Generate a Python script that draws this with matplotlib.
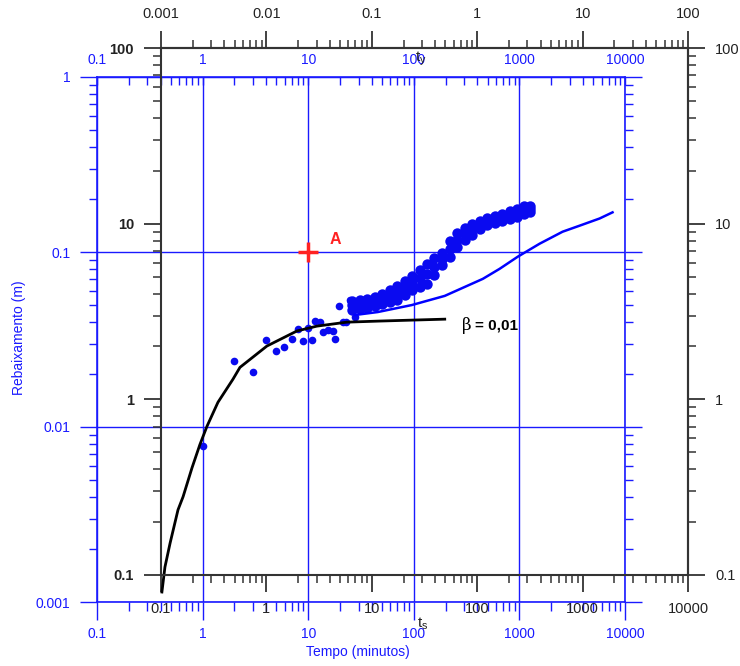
import numpy as np
import matplotlib
matplotlib.use("Agg")
import matplotlib.pyplot as plt
from matplotlib.ticker import LogLocator, NullFormatter

plt.rcParams['font.family'] = ['Liberation Sans', 'DejaVu Sans']

# dados de campo: tempo (minutos) e rebaixamento (m)
t_early = [1.0, 1.97, 2.98, 3.95, 4.91, 5.85, 6.97, 7.94, 8.85, 9.87, 10.8, 11.7,
           12.8, 13.7, 15.3, 17.0, 17.8, 19.4, 21.2, 22.6, 24.7, 25.8, 27.5, 32.0, 35.7]
s_early = [0.00778, 0.0238, 0.0206, 0.0314, 0.0272, 0.0287, 0.0318, 0.0363, 0.031,
           0.0368, 0.0314, 0.0403, 0.0398, 0.0349, 0.0358, 0.0354, 0.0318, 0.0491,
           0.0398, 0.0398, 0.0532, 0.0485, 0.0425, 0.0532, 0.0498]

t_band = [25.8, 30.7, 35.7, 42.5, 49.6, 59.0, 68.7, 81.8, 95.3, 113.5, 132, 157, 183,
          218, 254, 303, 352, 420, 489, 582, 678, 807, 940, 1096, 1250]
s_band_top = [0.0525, 0.0532, 0.0539, 0.0553, 0.0575, 0.0607, 0.064, 0.0683, 0.0729,
              0.0789, 0.0853, 0.0924, 0.0987, 0.1156, 0.1284, 0.137, 0.1445, 0.1503,
              0.1563, 0.1607, 0.1648, 0.1714, 0.1762, 0.1832, 0.1832]
s_band_mid = [0.0495, 0.0501, 0.0508, 0.0521, 0.0539, 0.0561, 0.0583, 0.0623, 0.0665,
              0.0706, 0.0748, 0.0826, 0.0912, 0.104, 0.1172, 0.1268, 0.1345, 0.1426,
              0.1493, 0.1535, 0.1574, 0.1626, 0.1671, 0.1738, 0.1762]
s_band_low = [0.0467, 0.0472, 0.0479, 0.0491, 0.0505, 0.0518, 0.0532, 0.0568, 0.0607,
              0.0631, 0.0656, 0.0739, 0.0843, 0.0936, 0.1069, 0.1172, 0.125, 0.1353,
              0.1426, 0.1466, 0.1503, 0.1545, 0.1585, 0.1648, 0.1694]

# curvas tipo (coordenadas adimensionais)
x_curve_a = [0.102, 0.109, 0.122, 0.145, 0.162, 0.197, 0.234, 0.273, 0.347, 0.481,
             0.561, 1.01, 1.95, 3.01, 5.79, 11.9, 49.2]
y_curve_a = [0.080, 0.111, 0.152, 0.235, 0.279, 0.408, 0.553, 0.702, 0.962, 1.30,
             1.52, 2.01, 2.45, 2.61, 2.75, 2.79, 2.86]
x_curve_b = [6.90, 11.4, 23.9, 49.2, 113, 163, 242, 391, 646, 937, 1449, 1923]
y_curve_b = [3.02, 3.14, 3.44, 3.88, 4.85, 5.53, 6.48, 7.69, 9.0, 9.74, 10.7, 11.6]

# ponto de ajuste A
t_match = 10
s_match = 0.1

blue_x_ticks = [0.1, 1, 10, 100, 1000, 10000]
blue_x_labels = ['0.1', '1', '10', '100', '1000', '10000']
blue_y_ticks = [0.001, 0.01, 0.1, 1]
blue_y_labels = ['0.001', '0.01', '0.1', '1']
black_x_ticks = [0.1, 1, 10, 100, 1000, 10000]
black_x_labels = ['0.1', '1', '10', '100', '1000', '10000']
black_top_ticks = [0.001, 0.01, 0.1, 1, 10, 100]
black_top_labels = ['0.001', '0.01', '0.1', '1', '10', '100']
black_y_ticks = [0.1, 1, 10, 100]
black_y_labels = ['0.1', '1', '10', '100']

blue = '#1a1aff'
dark = '#333333'
W, H = 740, 666

fig = plt.figure(figsize=(7.4, 6.66), dpi=100)

# eixos dos dados (azul)
ax = fig.add_axes([97 / W, (H - 602) / H, 528 / W, 525 / H])
ax.set_xscale('log')
ax.set_yscale('log')
ax.set_xlim(0.1, 10000)
ax.set_ylim(0.001, 1)
ax.set_xticks(blue_x_ticks, blue_x_labels)
ax.set_yticks(blue_y_ticks, blue_y_labels)
for a in (ax.xaxis, ax.yaxis):
    a.set_minor_locator(LogLocator(base=10, subs=np.arange(2, 10)))
    a.set_minor_formatter(NullFormatter())
ax.tick_params(axis='x', which='both', bottom=True, top=False, direction='out',
               colors=blue, labelsize=10)
ax.tick_params(axis='x', which='major', length=13, width=1, pad=5)
ax.tick_params(axis='x', which='minor', length=6.5, width=1)
ax.tick_params(axis='y', which='both', left=True, right=True, direction='out',
               colors=blue, labelsize=10, labelright=False)
ax.tick_params(axis='y', which='major', length=12, width=1, pad=7)
ax.tick_params(axis='y', which='minor', length=6, width=1)
for sp in ax.spines.values():
    sp.set_color(blue)
    sp.set_linewidth(1.2)
ax.grid(True, which='major', color=blue, lw=1)

top_blue = ax.secondary_xaxis('top')
top_blue.set_xticks(blue_x_ticks, blue_x_labels)
top_blue.xaxis.set_minor_locator(LogLocator(base=10, subs=np.arange(2, 10)))
top_blue.xaxis.set_minor_formatter(NullFormatter())
top_blue.tick_params(axis='x', which='both', direction='in', colors=blue,
                     labelsize=10, length=6, width=1, pad=7)
top_blue.spines['top'].set_color(blue)

ax.plot(t_early, s_early, 'o', color='#0a0af0', ms=5.5, mew=0)
ax.plot(t_band, s_band_top, 'o', color='#0a0af0', ms=7.5, mew=0)
ax.plot(t_band, s_band_mid, 'o', color='#0a0af0', ms=7.5, mew=0)
ax.plot(t_band, s_band_low, 'o', color='#0a0af0', ms=7.5, mew=0)
ax.plot([t_match], [s_match], '+', color='#ff2222', ms=14, mew=2.5)

# eixos da curva tipo (preto)
ax2 = fig.add_axes([161 / W, (H - 575) / H, 527 / W, 527 / H])
ax2.patch.set_visible(False)
ax2.set_xscale('log')
ax2.set_yscale('log')
ax2.set_xlim(0.1, 10000)
ax2.set_ylim(0.1, 100)
ax2.set_xticks(black_x_ticks, black_x_labels)
ax2.set_yticks(black_y_ticks, black_y_labels, fontweight='bold')
for a in (ax2.xaxis, ax2.yaxis):
    a.set_minor_locator(LogLocator(base=10, subs=np.arange(2, 10)))
    a.set_minor_formatter(NullFormatter())
ax2.tick_params(axis='both', which='both', direction='out', color=dark,
                labelcolor='#222222', labelsize=10.5, top=False, right=False)
ax2.tick_params(axis='both', which='major', length=12.5, width=1.3, pad=7)
ax2.tick_params(axis='both', which='minor', length=6, width=1.1)
for sp in ax2.spines.values():
    sp.set_color(dark)
    sp.set_linewidth(1.5)

top_black = ax2.secondary_xaxis('top', functions=(lambda x: x / 100, lambda x: x * 100))
top_black.set_xticks(black_top_ticks, black_top_labels)
top_black.xaxis.set_minor_locator(LogLocator(base=10, subs=np.arange(2, 10)))
top_black.xaxis.set_minor_formatter(NullFormatter())
top_black.tick_params(axis='x', which='both', direction='out', color=dark,
                      labelcolor='#222222', labelsize=10.5, pad=7)
top_black.tick_params(axis='x', which='major', length=12.5, width=1.3)
top_black.tick_params(axis='x', which='minor', length=6, width=1.1)
top_black.spines['top'].set_color(dark)
top_black.spines['top'].set_linewidth(1.5)

right_black = ax2.secondary_yaxis('right')
right_black.set_yticks(black_y_ticks, black_y_labels)
right_black.yaxis.set_minor_locator(LogLocator(base=10, subs=np.arange(2, 10)))
right_black.yaxis.set_minor_formatter(NullFormatter())
right_black.tick_params(axis='y', which='both', direction='out', color=dark,
                        labelcolor='#222222', labelsize=10.5, pad=7)
right_black.tick_params(axis='y', which='major', length=12.5, width=1.3)
right_black.tick_params(axis='y', which='minor', length=6, width=1.1)
right_black.spines['right'].set_color(dark)
right_black.spines['right'].set_linewidth(1.5)

ax2.plot(x_curve_a, y_curve_a, color='black', lw=2, clip_on=False)
ax2.plot(x_curve_b, y_curve_b, color='#0000ff', lw=1.8)

# textos
fig.text(19 / W, 1 - 338 / H, 'Rebaixamento (m)', rotation=90, color=blue,
         fontsize=10, ha='center', va='center')
fig.text(358 / W, 1 - 652 / H, 'Tempo (minutos)', color=blue, fontsize=10,
         ha='center', va='center')
fig.text(335 / W, 1 - 240 / H, 'A', color='#ff2222', fontsize=11.5,
         fontweight='bold', ha='center', va='center')
fig.text(467 / W, 1 - 325 / H, '\u03b2', family='DejaVu Serif', fontsize=12,
         ha='center', va='center')
fig.text(475 / W, 1 - 325 / H, '= 0,01', fontsize=11, fontweight='bold',
         ha='left', va='center')
fig.text(421 / W, 1 - 59 / H, r'$\mathregular{t_y}$', fontsize=11, ha='center',
         va='center', color='#222222')
fig.text(423 / W, 1 - 624 / H, r'$\mathregular{t_s}$', fontsize=11, ha='center',
         va='center', color='#222222')

fig.savefig('out.png', dpi=100)
